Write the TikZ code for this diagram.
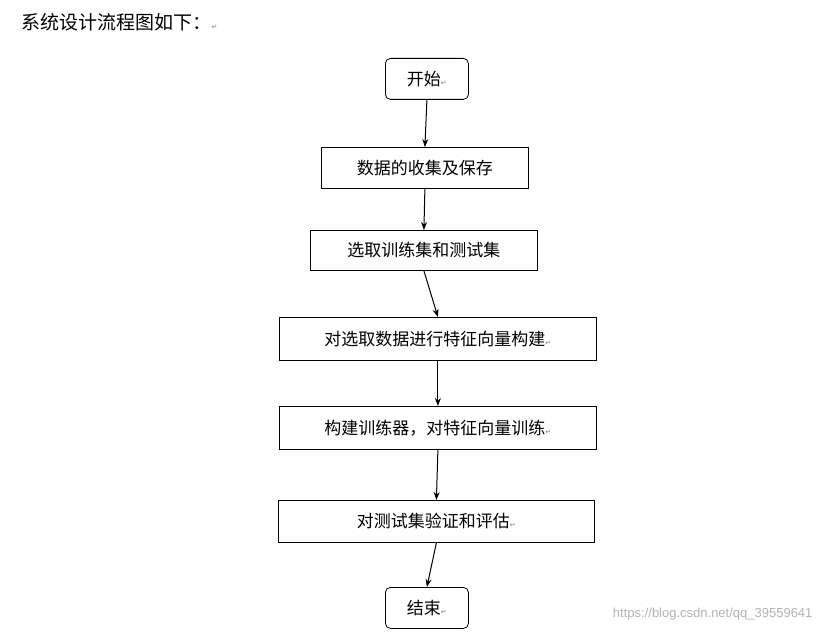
\documentclass[tikz,border=0pt]{standalone}
\usepackage{fontspec}
\newfontfamily\cjk{Noto Sans CJK SC}
\newfontfamily\dv{DejaVu Sans}
\usetikzlibrary{arrows.meta}
\newcommand{\rt}{{\dv\fontsize{7}{7}\selectfont\color{gray}↵}}
\tikzset{
 x=1pt,y=-1pt,
 bx/.style={draw,line width=0.8pt,anchor=north west,inner sep=0pt,font=\cjk\fontsize{17}{17}\selectfont},
 ar/.style={-{Stealth[length=8pt,width=6pt]},line width=1pt}
}
\begin{document}
\begin{tikzpicture}
\useasboundingbox (0,0) rectangle (822,636);
\node[anchor=west,font=\cjk\fontsize{19}{19}\selectfont] (t) at (18,22) {系统设计流程图如下：\rt};
\node[bx,rounded corners=5pt,minimum width=83pt,minimum height=41pt] (s) at (385,58) {开始\rt};
\node[bx,minimum width=207pt,minimum height=41pt] (a) at (321,147) {数据的收集及保存};
\node[bx,minimum width=227pt,minimum height=40pt] (b) at (310,230) {选取训练集和测试集};
\node[bx,minimum width=317pt,minimum height=43pt] (c) at (279,317) {对选取数据进行特征向量构建\rt};
\node[bx,minimum width=317pt,minimum height=43pt] (d) at (279,406) {构建训练器，对特征向量训练\rt};
\node[bx,minimum width=316pt,minimum height=42pt] (e) at (278,500) {对测试集验证和评估\rt};
\node[bx,rounded corners=5pt,minimum width=83pt,minimum height=41pt] (f) at (385,587) {结束\rt};
\draw[ar] (s.south) -- (a.north);
\draw[ar] (a.south) -- (b.north);
\draw[ar] (b.south) -- (c.north);
\draw[ar] (c.south) -- (d.north);
\draw[ar] (d.south) -- (e.north);
\draw[ar] (e.south) -- (f.north);
\node[anchor=east,text=gray!60,font=\fontspec{Liberation Sans}\fontsize{13}{13}\selectfont] (w) at (816,614) {https://blog.csdn.net/qq\_39559641};
\end{tikzpicture}
\end{document}
